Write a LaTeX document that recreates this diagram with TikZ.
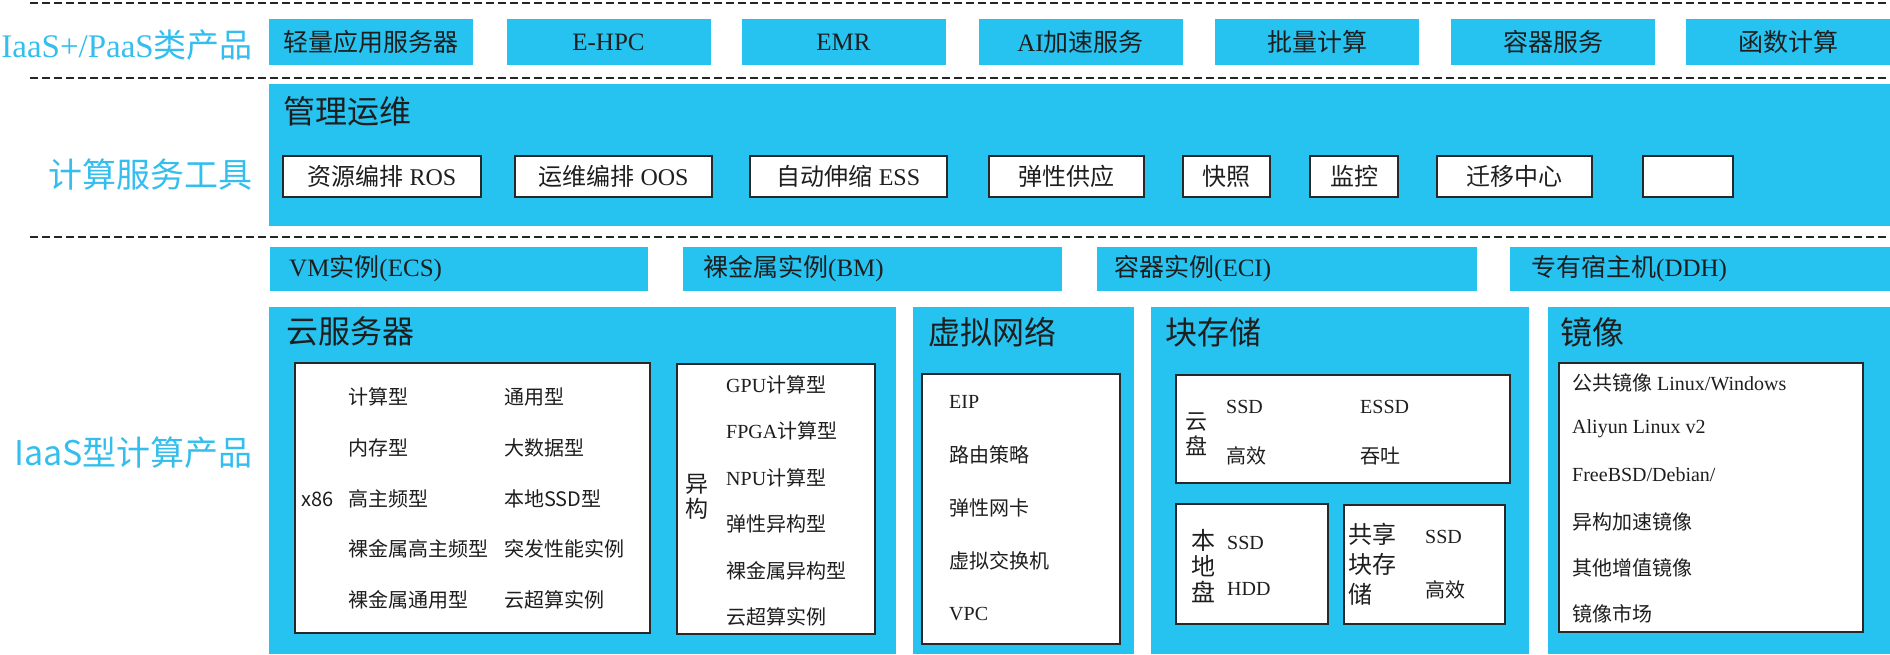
\documentclass[tikz,border=0pt]{standalone}
\usepackage{fontspec}
\setmainfont{Liberation Serif}
\newfontfamily\cjk{Noto Sans CJK SC}
\newcommand{\zh}[1]{{\cjk #1}}
\definecolor{aliblue}{RGB}{38,194,240}
\definecolor{lblblue}{RGB}{52,190,238}
\definecolor{boxline}{RGB}{40,40,40}
\definecolor{ink}{RGB}{30,30,30}
\tikzset{
  dashline/.style={line width=2pt, dash pattern=on 8pt off 4pt, color=black!85},
  sidelabel/.style={text=lblblue, anchor=east, inner sep=0pt, font=\fontsize{34}{40}\selectfont},
  topbox/.style={fill=aliblue, text=ink, minimum width=204pt, minimum height=46pt, inner sep=0pt, font=\fontsize{25}{30}\selectfont},
  toolbox/.style={draw=boxline, fill=white, line width=2pt, text=ink, minimum height=41pt, inner sep=0pt, font=\fontsize{24}{28}\selectfont},
  whitebox/.style={draw=boxline, fill=white, line width=2pt},
  title/.style={anchor=west, inner sep=0pt, text=ink, font=\fontsize{32}{38}\selectfont},
  bartext/.style={anchor=west, inner sep=0pt, text=ink, font=\fontsize{25}{30}\selectfont},
  item/.style={anchor=west, inner sep=0pt, text=ink, font=\fontsize{20}{24}\selectfont},
  vtext/.style={inner sep=0pt, text=ink, align=left, font=\fontsize{23}{25}\selectfont},
}
\begin{document}
\begin{tikzpicture}[x=1pt,y=-1pt]
\useasboundingbox (0,0) rectangle (1890,654);
% layer separators
\draw[dashline] (30,3) -- (1890,3);
\draw[dashline] (30,78) -- (1890,78);
\draw[dashline] (30,237) -- (1890,237);

% IaaS+/PaaS
\node[sidelabel, font=\fontsize{33}{40}\selectfont] (paaslbl) at (253,45) {IaaS+/PaaS\zh{类产品}};
\node[topbox] (swas) at (370.5,42) {\zh{轻量应用服务器}};
\node[topbox] (ehpc) at (608.5,42) {E-HPC};
\node[topbox] (emr) at (843.5,42) {EMR};
\node[topbox] (aiacc) at (1080.5,42) {AI\zh{加速服务}};
\node[topbox] (batch) at (1317,42) {\zh{批量计算}};
\node[topbox] (cntsvc) at (1553,42) {\zh{容器服务}};
\node[topbox] (fc) at (1788,42) {\zh{函数计算}};

% tools
\node[sidelabel] (toollbl) at (253,175) {\zh{计算服务工具}};
\fill[aliblue] (269,84) rectangle (1890,226);
\node[title] (ops) at (283,111) {\zh{管理运维}};
\node[toolbox, minimum width=198pt] (ros) at (382,176.5) {\zh{资源编排} ROS};
\node[toolbox, minimum width=197pt] (oos) at (613.5,176.5) {\zh{运维编排} OOS};
\node[toolbox, minimum width=197pt] (ess) at (848.5,176.5) {\zh{自动伸缩} ESS};
\node[toolbox, minimum width=155pt] (supply) at (1066.5,176.5) {\zh{弹性供应}};
\node[toolbox, minimum width=87pt] (snap) at (1226.5,176.5) {\zh{快照}};
\node[toolbox, minimum width=88pt] (monitor) at (1354,176.5) {\zh{监控}};
\node[toolbox, minimum width=155pt] (smc) at (1514.5,176.5) {\zh{迁移中心}};
\node[toolbox, minimum width=90pt] (blank) at (1688,176.5) {};

% IaaS
\node[sidelabel] (iaaslbl) at (253,453) {\cjk IaaS型计算产品};
\fill[aliblue] (270,247) rectangle (648,291);
\fill[aliblue] (683,247) rectangle (1062,291);
\fill[aliblue] (1097,247) rectangle (1477,291);
\fill[aliblue] (1510,247) rectangle (1890,291);
\node[bartext] (ecs) at (289,269) {VM\zh{实例}(ECS)};
\node[bartext] (bm) at (703,269) {\zh{裸金属实例}(BM)};
\node[bartext] (eci) at (1114,269) {\zh{容器实例}(ECI)};
\node[bartext] (ddh) at (1531,269) {\zh{专有宿主机}(DDH)};

\fill[aliblue] (269,307) rectangle (896,654);
\fill[aliblue] (913,307) rectangle (1134,654);
\fill[aliblue] (1151,307) rectangle (1529,654);
\fill[aliblue] (1548,307) rectangle (1890,654);
\node[title] (server) at (286,331) {\zh{云服务器}};
\node[title] (vnet) at (928,332) {\zh{虚拟网络}};
\node[title] (block) at (1165,332) {\zh{块存储}};
\node[title] (image) at (1560,332) {\zh{镜像}};

% cloud server
\draw[whitebox] (295,363) rectangle (650,633);
\node[item] (x86) at (301,499) {\cjk x86};
\node[item] (c1) at (348,397) {\zh{计算型}};
\node[item] (c2) at (348,448) {\zh{内存型}};
\node[item] (c3) at (348,499) {\zh{高主频型}};
\node[item] (c4) at (348,549) {\zh{裸金属高主频型}};
\node[item] (c5) at (348,600) {\zh{裸金属通用型}};
\node[item] (g1) at (504,397) {\zh{通用型}};
\node[item] (g2) at (504,448) {\zh{大数据型}};
\node[item] (g3) at (504,499) {\cjk 本地SSD型};
\node[item] (g4) at (504,549) {\zh{突发性能实例}};
\node[item] (g5) at (504,600) {\zh{云超算实例}};
\draw[whitebox] (677,364) rectangle (875,634);
\node[vtext] (hetero) at (697,497) {\zh{异}\\\zh{构}};
\node[item] (h1) at (726,385) {GPU\zh{计算型}};
\node[item] (h2) at (726,431) {FPGA\zh{计算型}};
\node[item] (h3) at (726,478) {NPU\zh{计算型}};
\node[item] (h4) at (726,524) {\zh{弹性异构型}};
\node[item] (h5) at (726,571) {\zh{裸金属异构型}};
\node[item] (h6) at (726,617) {\zh{云超算实例}};

% network
\draw[whitebox] (922,374) rectangle (1120,644);
\node[item] (eip) at (949,402) {EIP};
\node[item] (route) at (949,455) {\zh{路由策略}};
\node[item] (eni) at (949,508) {\zh{弹性网卡}};
\node[item] (vsw) at (949,561) {\zh{虚拟交换机}};
\node[item] (vpc) at (949,614) {VPC};

% block storage
\draw[whitebox] (1176,375) rectangle (1510,483);
\node[vtext, font=\fontsize{22}{25}\selectfont] (cloud) at (1196,434) {\zh{云}\\\zh{盘}};
\node[item] (d1) at (1226,407) {SSD};
\node[item] (d2) at (1360,407) {ESSD};
\node[item] (d3) at (1226,456) {\zh{高效}};
\node[item] (d4) at (1360,456) {\zh{吞吐}};
\draw[whitebox] (1176,504) rectangle (1328,624);
\node[vtext, font=\fontsize{24}{26}\selectfont] (local) at (1203,566) {\zh{本}\\\zh{地}\\\zh{盘}};
\node[item] (l1) at (1227,543) {SSD};
\node[item] (l2) at (1227,589) {HDD};
\draw[whitebox] (1344,505) rectangle (1505,624);
\node[vtext, anchor=west, font=\fontsize{24}{30}\selectfont] (shared) at (1348,564) {\zh{共享}\\\zh{块存}\\\zh{储}};
\node[item] (s1) at (1425,537) {SSD};
\node[item] (s2) at (1425,590) {\zh{高效}};

% images
\draw[whitebox] (1559,363) rectangle (1863,632);
\node[item] (m1) at (1572,383) {\zh{公共镜像} Linux/Windows};
\node[item] (m2) at (1572,429) {Aliyun Linux v2};
\node[item] (m3) at (1572,475) {FreeBSD/Debian/};
\node[item] (m4) at (1572,522) {\zh{异构加速镜像}};
\node[item] (m5) at (1572,568) {\zh{其他增值镜像}};
\node[item] (m6) at (1572,614) {\zh{镜像市场}};
\end{tikzpicture}
\end{document}
